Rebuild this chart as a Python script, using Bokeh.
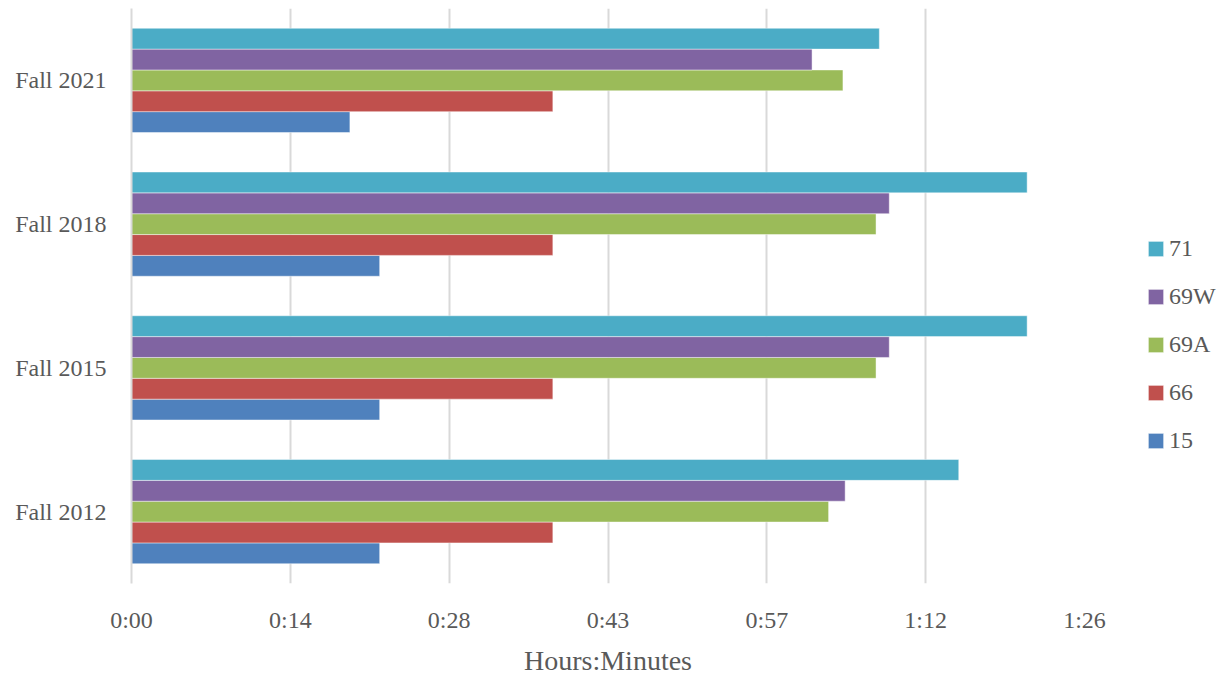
from bokeh.plotting import figure
from bokeh.models import FactorRange, Range1d, FixedTicker, Legend, LegendItem
from bokeh.transform import dodge
from bokeh.embed import file_html
from bokeh.resources import INLINE

# ---- data (minutes) ----
years = ["Fall 2012", "Fall 2015", "Fall 2018", "Fall 2021"]
route_15 = [22.5, 22.5, 22.5, 19.8]
route_66 = [38.2, 38.2, 38.2, 38.2]
route_69A = [63.2, 67.5, 67.5, 64.5]
route_69W = [64.7, 68.7, 68.7, 61.7]
route_71 = [75.0, 81.2, 81.2, 67.8]
tick_minutes = [0.0, 14.4, 28.8, 43.2, 57.6, 72.0, 86.4]
tick_labels = ["0:00", "0:14", "0:28", "0:43", "0:57", "1:12", "1:26"]

series = [
    ("15", route_15, "#4F81BD"),
    ("66", route_66, "#C0504D"),
    ("69A", route_69A, "#9BBB59"),
    ("69W", route_69W, "#8064A2"),
    ("71", route_71, "#4BACC6"),
]

FONT = "Liberation Serif"
TXT = "#595959"
GRID = "#D9D9D9"

p = figure(
    width=1222, height=675,
    y_range=FactorRange(factors=years),
    x_range=Range1d(0, tick_minutes[-1]),
    output_backend="svg", toolbar_location=None,
    min_border_left=131, min_border_right=138, min_border_top=8, min_border_bottom=92,
    frame_width=953, frame_height=575,
)
p.outline_line_color = None
p.background_fill_color = "white"

h = 0.145
renderers = {}
for i, (name, vals, col) in enumerate(series):
    src = {"year": years, "val": vals}
    r = p.hbar(y=dodge("year", (i - 2) * h, range=p.y_range), right="val", left=0,
               height=h, source=src, fill_color=col, line_color="white",
               line_alpha=0.45, line_width=1)
    renderers[name] = r

# axes
p.xaxis.ticker = FixedTicker(ticks=tick_minutes)
p.xaxis.major_label_overrides = {t: l for t, l in zip(tick_minutes, tick_labels)}
p.xaxis.axis_label = "Hours:Minutes"
for ax in (p.xaxis, p.yaxis):
    ax.axis_line_color = None
    ax.major_tick_line_color = None
    ax.minor_tick_line_color = None
    ax.major_tick_out = 0
    ax.major_tick_in = 0
    ax.minor_tick_out = 0
    ax.major_label_text_font = FONT
    ax.major_label_text_font_size = "24px"
    ax.major_label_text_color = TXT
p.yaxis.axis_line_color = GRID
p.yaxis.axis_line_width = 2
p.xaxis.major_label_standoff = 23
p.xaxis.axis_label_text_font = FONT
p.xaxis.axis_label_text_font_size = "28px"
p.xaxis.axis_label_text_font_style = "normal"
p.xaxis.axis_label_text_color = TXT
p.xaxis.axis_label_standoff = 9
p.yaxis.major_label_standoff = 25

p.xgrid.grid_line_color = GRID
p.xgrid.grid_line_width = 2
p.ygrid.grid_line_color = None

items = [LegendItem(label=n, renderers=[renderers[n]]) for n in ["71", "69W", "69A", "66", "15"]]
legend = Legend(items=items, location=(62, 129.5),
                label_text_font=FONT, label_text_font_size="24px", label_text_color=TXT,
                glyph_width=19, glyph_height=19, label_standoff=4, spacing=21,
                padding=0, margin=0, border_line_alpha=0, background_fill_alpha=0,
                label_height=15)
p.add_layout(legend, "right")

open("out.html", "w").write(file_html(p, INLINE))
